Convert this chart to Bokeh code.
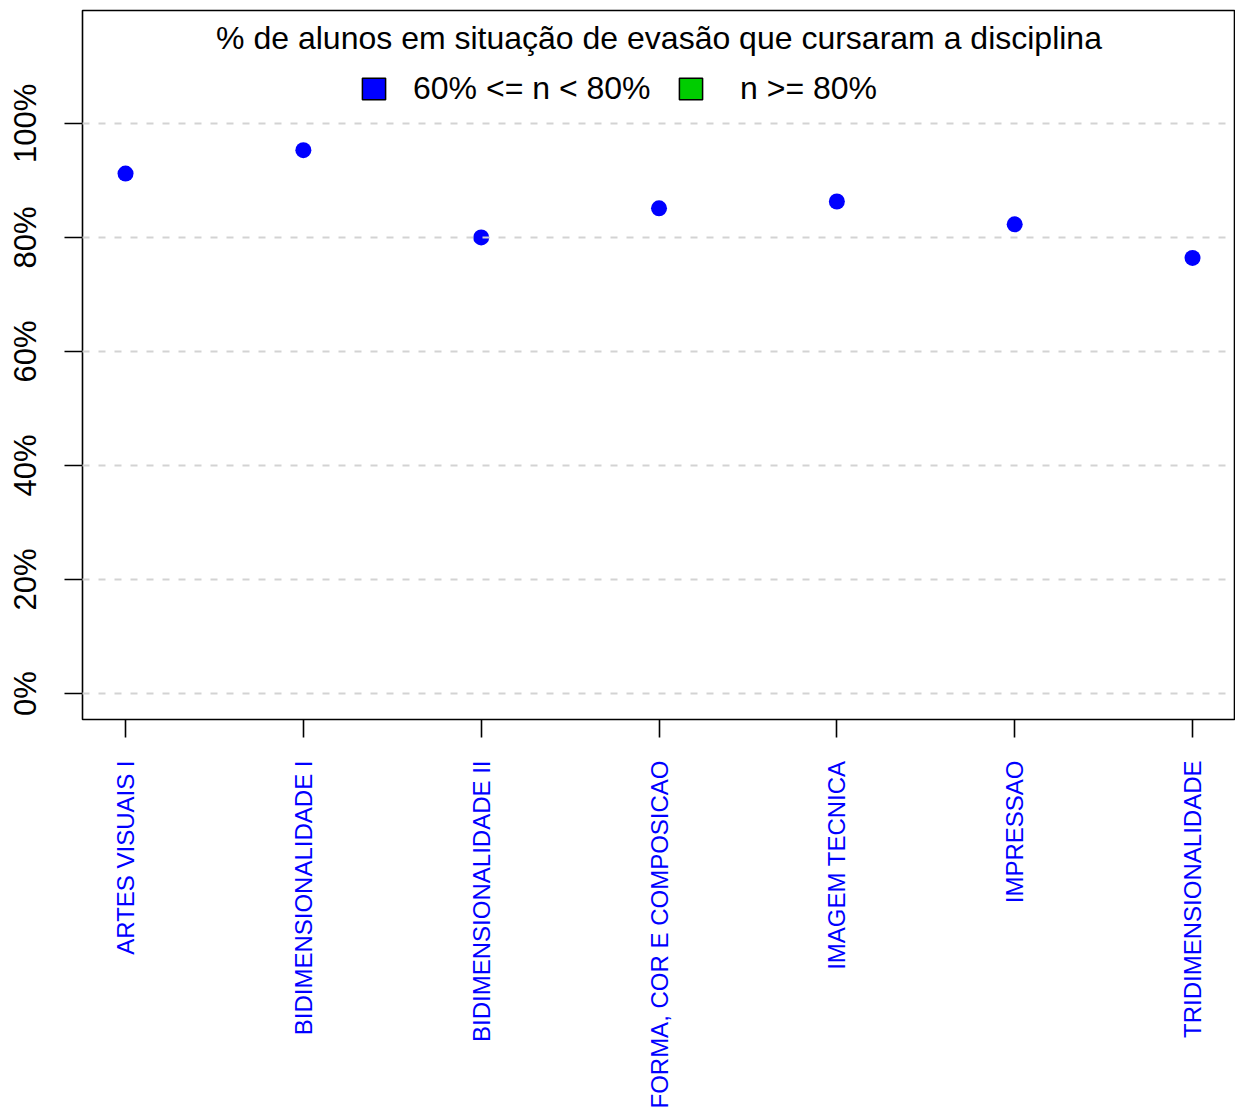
import math
from bokeh.plotting import figure
from bokeh.models import (FixedTicker, PrintfTickFormatter, Range1d, Label, Legend, LegendItem)
from bokeh.embed import file_html
from bokeh.resources import INLINE

disciplinas = ["ARTES VISUAIS I", "BIDIMENSIONALIDADE I", "BIDIMENSIONALIDADE II",
               "FORMA, COR E COMPOSICAO", "IMAGEM TECNICA", "IMPRESSAO", "TRIDIMENSIONALIDADE"]
posicoes = [1, 2, 3, 4, 5, 6, 7]
percentuais = [91.2, 95.3, 80.0, 85.1, 86.3, 82.3, 76.4]
y_ticks = [0, 20, 40, 60, 80, 100]
titulo = "% de alunos em situação de evasão que cursaram a disciplina"
legenda_rotulos = ["60% <= n < 80%", "n >= 80%"]
legenda_cores = ["#0000FF", "#00CD00"]

FONT = "Liberation Sans"

p = figure(width=1235, height=1111, output_backend="svg", toolbar_location=None,
           x_range=Range1d(0.758, 7.236), y_range=Range1d(-4.55, 119.8),
           min_border_left=82, min_border_right=1, min_border_top=10, min_border_bottom=391)
p.background_fill_color = "white"
p.border_fill_color = "white"
p.outline_line_color = "black"
p.outline_line_width = 1.6

p.xgrid.visible = False
p.ygrid.ticker = FixedTicker(ticks=y_ticks)
p.ygrid.grid_line_color = "#D3D3D3"
p.ygrid.grid_line_width = 2
p.ygrid.grid_line_dash = "7 9"
p.ygrid.level = "overlay"

p.scatter(posicoes, percentuais, size=16, color="#0000FF", line_color=None)

# x axis
p.xaxis.ticker = FixedTicker(ticks=posicoes)
p.xaxis.major_label_overrides = {i: d for i, d in zip(posicoes, disciplinas)}
p.xaxis.major_label_orientation = math.pi / 2
p.xaxis.major_label_text_font = FONT
p.xaxis.major_label_text_font_size = "24px"
p.xaxis.major_label_text_color = "#0000FF"
p.xaxis.major_label_standoff = 23
p.xaxis.axis_line_color = None
p.xaxis.major_tick_out = 18
p.xaxis.major_tick_in = 0
p.xaxis.major_tick_line_width = 1.6
p.xaxis.major_tick_line_color = "black"
p.xaxis.minor_tick_line_color = None

# y axis
p.yaxis.ticker = FixedTicker(ticks=y_ticks)
p.yaxis.formatter = PrintfTickFormatter(format="%d%%")
p.yaxis.major_label_orientation = "vertical"
p.yaxis.major_label_text_font = FONT
p.yaxis.major_label_text_font_size = "31px"
p.yaxis.major_label_text_color = "black"
p.yaxis.major_label_standoff = 21
p.yaxis.axis_line_color = None
p.yaxis.major_tick_out = 18
p.yaxis.major_tick_in = 0
p.yaxis.major_tick_line_width = 1.6
p.yaxis.major_tick_line_color = "black"
p.yaxis.minor_tick_line_color = None

# title inside the frame
p.add_layout(Label(x=4.0, y=114.9, text=titulo, text_align="center", text_baseline="middle",
                   text_font=FONT, text_font_size="32px", text_color="black"))

# legend (two separate blocks)
nan = float("nan")
legend_x = [277, 594]
standoffs = [25, 35]
for rot, cor, lx, so in zip(legenda_rotulos, legenda_cores, legend_x, standoffs):
    r = p.quad(left=[nan], right=[nan], top=[nan], bottom=[nan],
               fill_color=cor, line_color="black", line_width=1.5)
    leg = Legend(items=[LegendItem(label=rot, renderers=[r], index=0)], location=(lx, 612),
                 glyph_width=29, glyph_height=27, label_height=27, label_standoff=so,
                 label_text_font=FONT, label_text_font_size="32px", label_text_color="black",
                 padding=0, margin=0, border_line_color=None, background_fill_alpha=0,
                 label_text_baseline="middle")
    p.add_layout(leg, "center")

open("out.html", "w").write(file_html(p, INLINE))
